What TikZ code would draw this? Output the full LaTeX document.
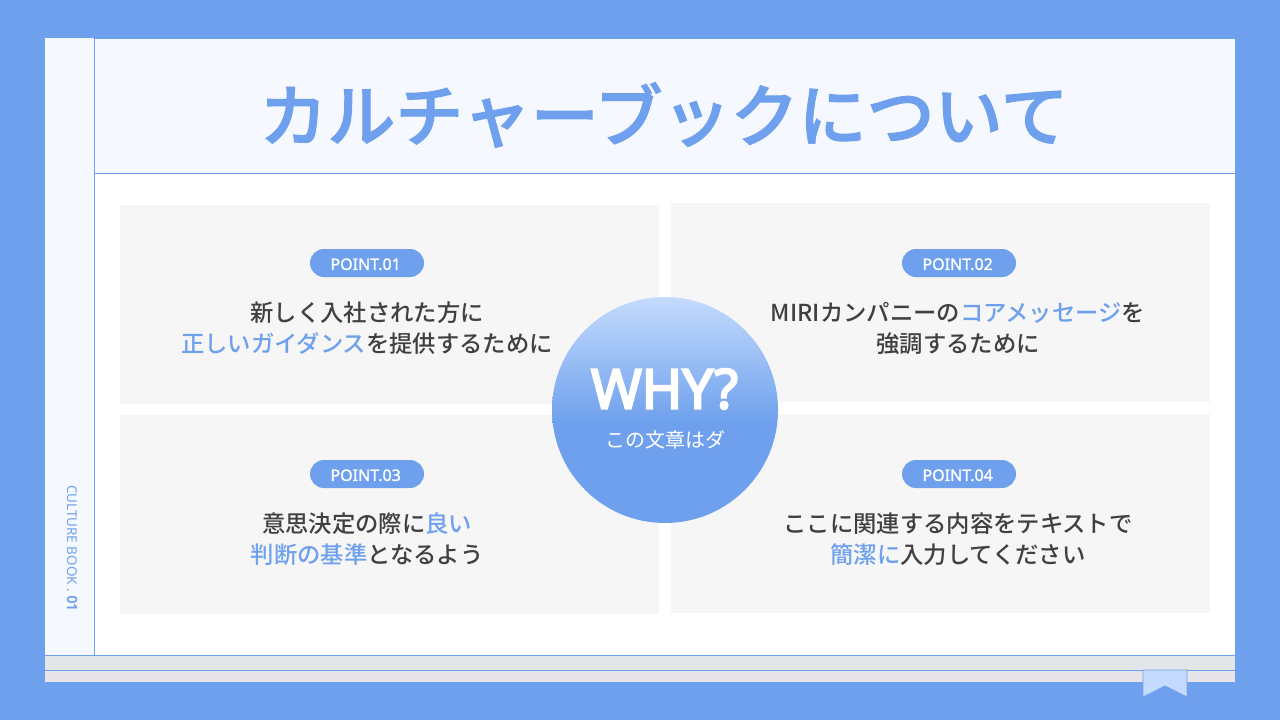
\documentclass[tikz,border=0pt]{standalone}
\usepackage{xcolor}
\usepackage{fontspec}
\setmainfont{Noto Sans CJK JP}
\newfontfamily\medfont{Noto Sans CJK JP Medium}
\newfontfamily\semifont[FakeBold=1.6]{Noto Sans CJK JP Medium}
\newfontfamily\latinfont{Noto Sans}
\newfontfamily\latinheavy[FakeBold=1.2]{Noto Sans}
\newfontfamily\whyfont[FakeBold=4]{Noto Sans}
\usetikzlibrary{shapes.geometric}
\definecolor{bookblue}{HTML}{6EA0ED}
\definecolor{paleblue}{HTML}{F5F9FF}
\definecolor{panelgray}{HTML}{F6F6F6}
\definecolor{stripa}{HTML}{E3E6E8}
\definecolor{stripb}{HTML}{E7E5EA}
\definecolor{ribbonblue}{HTML}{C4DBFD}
\definecolor{inkgray}{HTML}{404040}
\pgfdeclareverticalshading{whyshade}{100bp}{
  color(0bp)=(bookblue); color(47bp)=(bookblue); color(75bp)=(ribbonblue); color(100bp)=(ribbonblue)}
\tikzstyle{sheet} = [rectangle, inner sep=0pt, outer sep=0pt]
\tikzstyle{panel} = [sheet, fill=panelgray, minimum width=404.25pt, minimum height=149.25pt]
\tikzstyle{pill} = [rectangle, rounded corners=10.5pt, fill=bookblue, text=white, inner sep=0pt,
minimum width=85.5pt, minimum height=21pt, font=\latinheavy\fontsize{12}{14}\selectfont]
\tikzstyle{body} = [align=center, text=inkgray, inner sep=0pt, font=\medfont\fontsize{17.5}{23.25}\selectfont]
\tikzstyle{rule} = [draw=bookblue, line width=0.75pt]
\newcommand{\hl}[1]{\textcolor{bookblue}{#1}}
\newcommand{\pilltext}[1]{\raisebox{-5.2pt}[0pt][0pt]{\hspace{-2pt}#1}}
\begin{document}
\begin{tikzpicture}[x=0.75pt, y=-0.75pt]
	\useasboundingbox (0,0) rectangle (1280,720);
	% Place nodes
	\node [sheet, fill=bookblue, minimum width=960pt, minimum height=540pt] (page) at (640,360) {};
	\node [sheet, fill=white, minimum width=892.5pt, minimum height=482.25pt] (book) at (640,360.5) {};
	\node [sheet, fill=paleblue, minimum width=37pt, minimum height=462pt] (spine) at (69.67,346.5) {};
	\node [sheet, fill=paleblue, minimum width=855.4pt, minimum height=101.25pt] (header) at (664.7,106.5) {};
	\node [sheet, fill=stripa, minimum width=892.5pt, minimum height=11.25pt] (stripUpper) at (640,662.5) {};
	\node [sheet, fill=stripb, minimum width=892.5pt, minimum height=9pt] (stripLower) at (640,676) {};
	%
	\path [rule] (spine.north east) -- (spine.south east);
	\path [rule] (header.south west) -- (header.south east);
	\path [rule] (stripUpper.north west) -- (stripUpper.north east);
	\path [rule] (stripUpper.south west) -- (stripUpper.south east);
	
	\node [text=bookblue, font=\semifont\fontsize{51}{56}\selectfont] (title) at (664,115) {カルチャーブックについて};
	\node [rotate=-90, text=bookblue, inner sep=0pt, font=\latinfont\fontsize{10.1}{12}\selectfont] (spineLabel) at (72,548) {CULTURE BOOK . {\whyfont 01}};
	
	% Panels
	\node [panel] (panelA) at (389.5,304.5) {};
	\node [panel] (panelB) at (940.5,302.5) {};
	\node [panel] (panelC) at (389.5,514.5) {};
	\node [panel] (panelD) at (940.5,513.5) {};
	
	\node [pill] (pointA) at (367,263) {\pilltext{POINT.01}};
	\node [pill] (pointB) at (959,263) {\pilltext{POINT.02}};
	\node [pill] (pointC) at (367,474) {\pilltext{POINT.03}};
	\node [pill] (pointD) at (959,474) {\pilltext{POINT.04}};
	
	\node [body] (textA) at (367,328) {新しく入社された方に\\\hl{正しいガイダンス}を提供するために};
	\node [body] (textB) at (958,328) {MIRIカンパニーの\hl{コアメッセージ}を\\強調するために};
	\node [body] (textC) at (367,539) {意思決定の際に\hl{良い}\\\hl{判断の基準}となるよう};
	\node [body] (textD) at (958,539) {ここに関連する内容をテキストで\\\hl{簡潔に}入力してください};
	
	% Center badge
	\node [circle, shading=whyshade, inner sep=0pt, minimum size=169.5pt] (why) at (665,410) {};
	\node [text=white, inner sep=0pt, font=\whyfont\fontsize{41}{50}\selectfont] (whyTitle) at (664.5,389) {WHY?};
	\node [text=white, inner sep=0pt, font=\fontsize{15}{18}\selectfont] (whySub) at (665,440) {この文章はダ};
	
	% Ribbon
	\draw [draw=bookblue, fill=ribbonblue, line width=0.6pt] (1143,670) -- (1187,670) -- (1187,697) -- (1165,686) -- (1143,697) -- cycle;
\end{tikzpicture}
\end{document}
